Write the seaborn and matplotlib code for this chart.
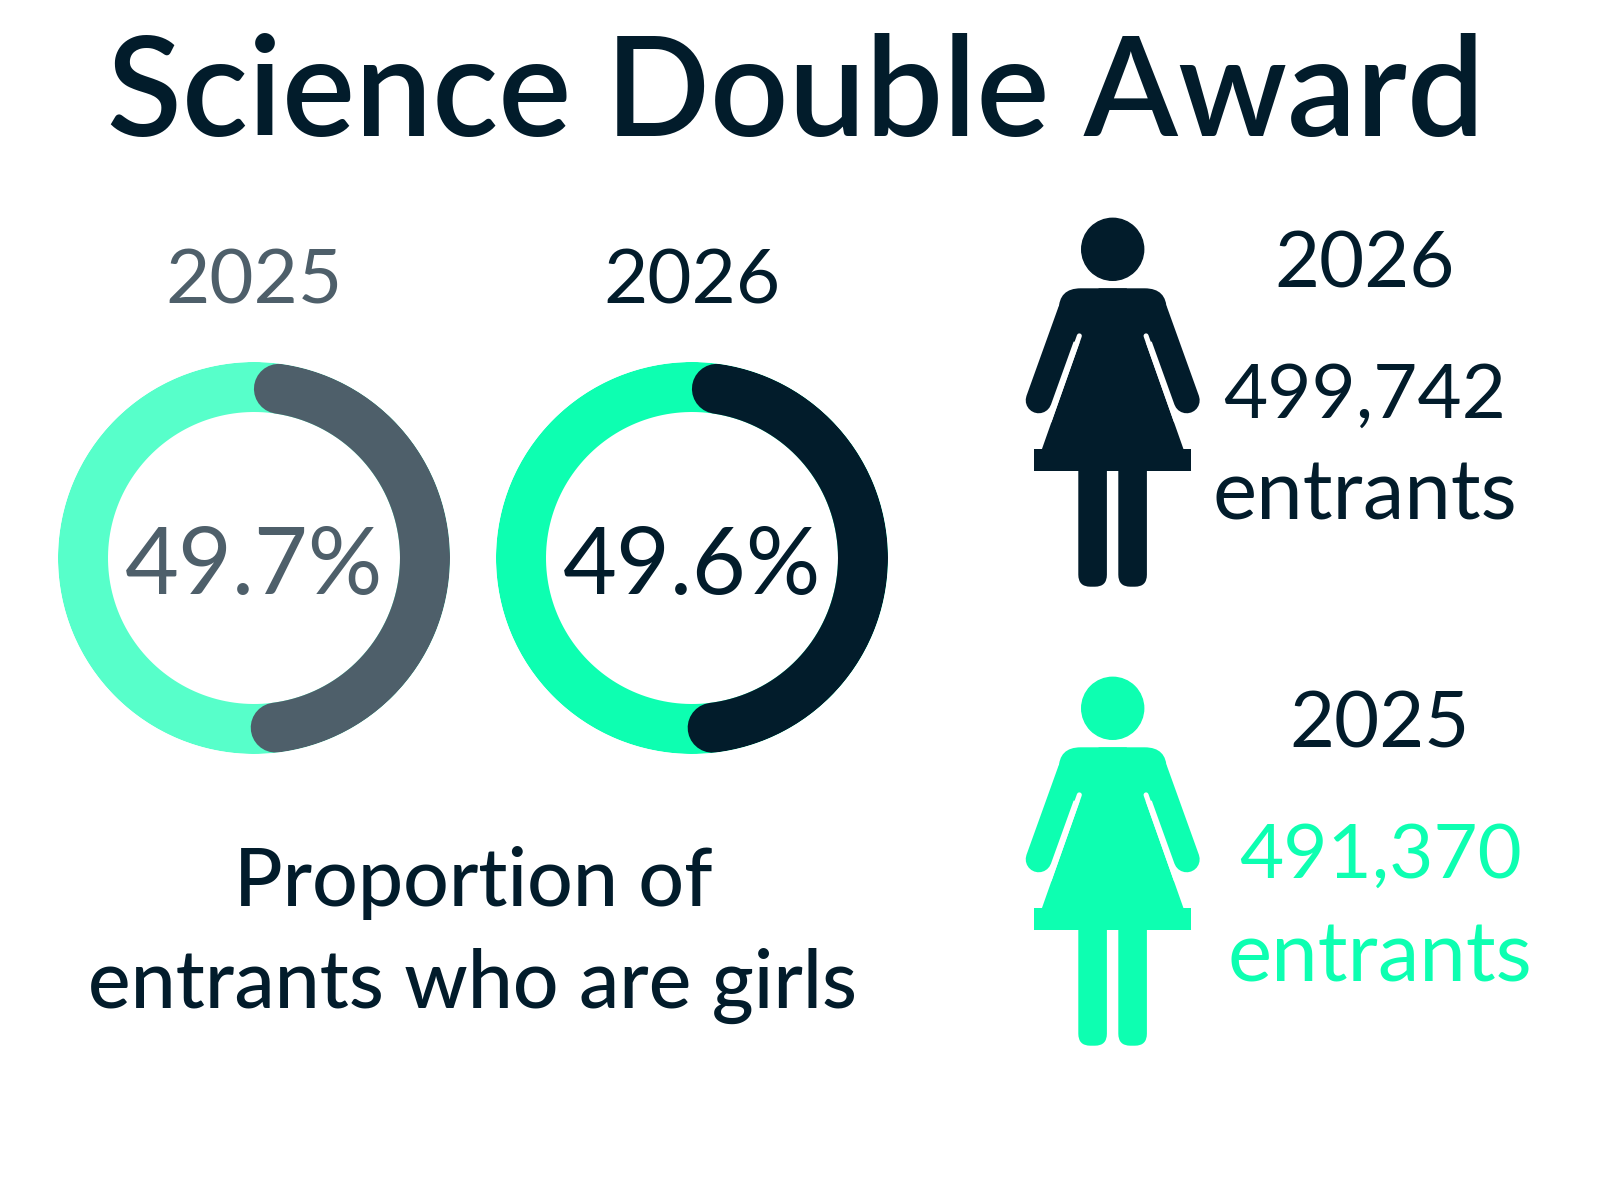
import numpy as np
import pandas as pd
import matplotlib
matplotlib.use("Agg")
import matplotlib.pyplot as plt
from matplotlib.patches import Circle, Polygon, FancyBboxPatch
import seaborn as sns

# ---------------- data ----------------
years = ["2025", "2026"]
girls_pct = [49.7, 49.6]
entrants = [491370, 499742]
title = "Science Double Award"
caption = ["Proportion of", "entrants who are girls"]

# ---------------- style ----------------
NAVY = "#021C2B"
GREY = "#4E5F6A"
MINT = "#57FFCA"
GREEN = "#0DFFB1"
ring_colors = {"2025": (MINT, GREY), "2026": (GREEN, NAVY)}
text_colors = {"2025": GREY, "2026": NAVY}

sns.set_theme(style="white")
plt.rcParams["font.family"] = ["Lato", "DejaVu Sans"]

W, H = 1600, 1200
fig = plt.figure(figsize=(16, 12), dpi=100)
fig.patch.set_facecolor("white")

# full-figure canvas in pixel units (y downwards)
bg = fig.add_axes([0, 0, 1, 1])
bg.set_xlim(0, W)
bg.set_ylim(H, 0)
bg.axis("off")

def txt(x, y, s, size, color=NAVY, weight="normal"):
    bg.text(x, y, s, fontsize=size, color=color, ha="center", va="baseline",
            fontweight=weight)

txt(796, 136, title, 99, NAVY, "semibold")

# ---------------- donuts ----------------
ring_cx = [254, 692]
ring_cy = 558
R_OUT = 196
R_MID = 171
RING_W_PX = 50
lw_pt = RING_W_PX * 72 / 100

for i, yr in enumerate(years):
    cx = ring_cx[i]
    ax = fig.add_axes([(cx - R_OUT) / W, 1 - (ring_cy + R_OUT) / H,
                       2 * R_OUT / W, 2 * R_OUT / H], projection="polar")
    ax.set_theta_zero_location("N")
    ax.set_theta_direction(-1)
    ax.set_ylim(0, R_OUT)
    ax.axis("off")
    bgc, fgc = ring_colors[yr]
    # full ring (girls colour)
    th = np.linspace(0, 2 * np.pi, 400)
    sns.lineplot(x=th, y=np.full_like(th, R_MID), ax=ax, color=bgc,
                 linewidth=lw_pt, sort=False, estimator=None)
    # boys share arc with rounded ends
    span = (1 - girls_pct[i] / 100) * 2 * np.pi
    cap = (RING_W_PX / 2) / R_MID
    th2 = np.linspace(cap, span - cap, 300)
    sns.lineplot(x=th2, y=np.full_like(th2, R_MID), ax=ax, color=fgc,
                 linewidth=lw_pt, sort=False, estimator=None,
                 solid_capstyle="round")
    ax.set_xlabel("")
    ax.set_ylabel("")
    # year label and percentage
    txt(cx, 304, yr, 55, text_colors[yr])
    txt(cx, 594, f"{girls_pct[i]:.1f}%", 67, text_colors[yr], "normal")

txt(473, 906, caption[0], 58, NAVY, "medium")
txt(472, 1008, caption[1], 58, NAVY, "medium")

# ---------------- pictograms ----------------
def draw_icon(cx, cy, color):
    z = 3
    bg.add_patch(Circle((cx, cy), 31, color=color, zorder=z))
    # shoulders (rounded block)
    bg.add_patch(FancyBboxPatch((cx - 54, cy + 39), 108, 54,
                                boxstyle="round,pad=0,rounding_size=22",
                                facecolor=color, edgecolor="none", zorder=z))
    # dress
    bg.add_patch(Polygon([(cx - 14, cy + 39), (cx + 14, cy + 39),
                          (cx + 78.4, cy + 221.4), (cx - 78.4, cy + 221.4)],
                         closed=True, facecolor=color, edgecolor="none", zorder=z))
    d = np.array([-0.3336, 0.943])
    n = np.array([-0.943, -0.3336])
    for s in (-1, 1):
        # arm
        p_top = np.array([-42.0, 62.0])
        p_end = np.array([-74.0, 151.0])
        bg.plot([cx + s * p_top[0], cx + s * p_end[0]], [cy + p_top[1], cy + p_end[1]],
                color=color, linewidth=26 * 0.72, solid_capstyle="round", zorder=z)
        # slit between arm and dress
        e0 = np.array([-31.0, 87.4]) + 2.5 * n
        e1 = e0 + 90 * d
        bg.plot([cx + s * e0[0], cx + s * e1[0]], [cy + e0[1], cy + e1[1]],
                color="white", linewidth=5 * 0.72, solid_capstyle="round", zorder=z + 1)
        # legs
        x0 = -34.4 if s < 0 else 5.6
        bg.add_patch(FancyBboxPatch((cx + x0, cy + 200), 28.6, 137.4,
                                    boxstyle="round,pad=0,rounding_size=12",
                                    facecolor=color, edgecolor="none", zorder=z))
    bg.add_patch(Polygon([(cx - 78.4, cy + 221.4), (cx + 78.4, cy + 221.4),
                          (cx + 78.4, cy + 200), (cx - 78.4, cy + 200)],
                         closed=True, facecolor=color, edgecolor="none", zorder=z))

draw_icon(1112.7, 249.3, NAVY)
draw_icon(1112.7, 708.3, GREEN)

# right-hand text blocks
blocks = [("2026", entrants[1], NAVY, 287, 418, 520, 1365),
          ("2025", entrants[0], GREEN, 747, 878, 982, 1380)]
for yr, n_ent, col, yy, yn, ye, xc in blocks:
    txt(xc, yy, yr, 56, NAVY)
    txt(xc, yn, f"{n_ent:,}", 55, col)
    txt(xc, ye, "entrants", 60, col)

fig.savefig("out.png", dpi=100, facecolor="white")
